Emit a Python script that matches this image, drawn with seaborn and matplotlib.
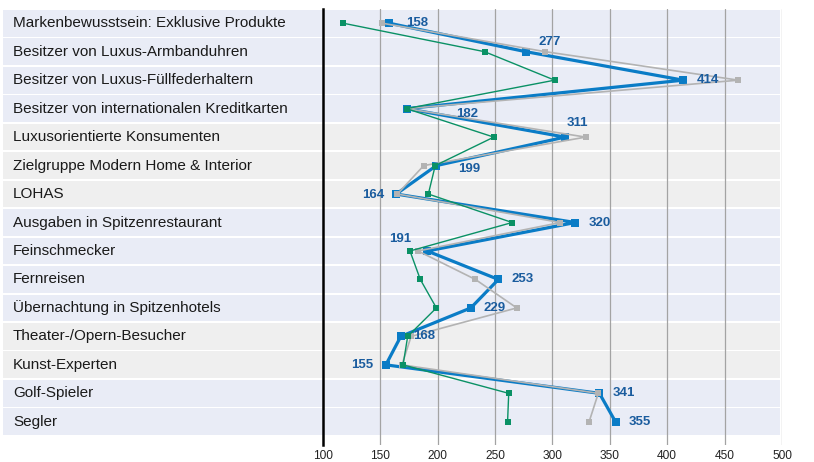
import matplotlib
matplotlib.use("Agg")
import matplotlib.pyplot as plt
import matplotlib.transforms as mtransforms
from matplotlib.patches import Rectangle
import seaborn as sns

# Data
categories = [
    "Markenbewusstsein: Exklusive Produkte",
    "Besitzer von Luxus-Armbanduhren",
    "Besitzer von Luxus-Füllfederhaltern",
    "Besitzer von internationalen Kreditkarten",
    "Luxusorientierte Konsumenten",
    "Zielgruppe Modern Home & Interior",
    "LOHAS",
    "Ausgaben in Spitzenrestaurant",
    "Feinschmecker",
    "Fernreisen",
    "Übernachtung in Spitzenhotels",
    "Theater-/Opern-Besucher",
    "Kunst-Experten",
    "Golf-Spieler",
    "Segler",
]
blue_values = [158, 277, 414, 173, 311, 199, 164, 320, 191, 253, 229, 168, 155, 341, 355]
blue_labels = ["158", "277", "414", "182", "311", "199", "164", "320", "191", "253", "229", "168", "155", "341", "355"]
gray_values = [152, 294, 462, 173, 329, 188, 165, 307, 183, 233, 269, 177, 169, 340, 332]
green_values = [118, 241, 302, 173, 249, 198, 192, 265, 176, 185, 199, 174, 170, 262, 261]
row_shade = ["b", "b", "b", "b", "g", "g", "g", "b", "b", "b", "b", "g", "g", "b", "b"]
xticks = [100, 150, 200, 250, 300, 350, 400, 450, 500]

# label placement (pixel offsets from the marker, ha)
label_pos = [
    (17, 0, "left"), (24, -10, "center"), (13, 0, "left"), (61, 5, "center"),
    (12, -14, "center"), (33, 3, "center"), (-12, 1, "right"), (13, 0, "left"),
    (-27, -12, "center"), (13, 0, "left"), (13, 0, "left"), (12, 0, "left"),
    (-13, 0, "right"), (13, 0, "left"), (13, 0, "left"),
]

sns.set_style("white")
plt.rcParams["font.family"] = ["Liberation Sans", "DejaVu Sans"]

BLUE = "#0a7cc6"
GRAY = "#b3b3b3"
GREEN = "#0a9165"
LABEL = "#1a5c9e"
BAND = {"b": "#e9ecf6", "g": "#efefef"}

fig = plt.figure(figsize=(8.14, 4.62), dpi=100)
ax = fig.add_axes([322.7 / 814, 17 / 462, (782 - 322.7) / 814, 436 / 462])
n = len(categories)
rows = list(range(n))

# row background bands reaching behind the labels
trans = mtransforms.blended_transform_factory(fig.transFigure, ax.transData)
for i, s in enumerate(row_shade):
    ax.add_patch(Rectangle((3 / 814, i - 0.47), (780 - 3) / 814, 0.94,
                           transform=trans, facecolor=BAND[s], edgecolor="none",
                           clip_on=False, zorder=0))
    ax.text(13 / 814, i, categories[i], transform=trans, ha="left", va="center",
            fontsize=11, color="#1a1a1a", zorder=3)

for xv in xticks[1:]:
    ax.axvline(xv, color="#a3a3a3", lw=0.9, zorder=1)

sns.lineplot(x=blue_values, y=rows, sort=False, estimator=None, color=BLUE, lw=2.3,
             marker="s", markersize=5.2, markeredgewidth=0, ax=ax, zorder=4)
sns.lineplot(x=gray_values, y=rows, sort=False, estimator=None, color=GRAY, lw=1.2,
             marker="s", markersize=5, markeredgewidth=0, ax=ax, zorder=5)
sns.lineplot(x=green_values, y=rows, sort=False, estimator=None, color=GREEN, lw=1.0,
             marker="s", markersize=5, markeredgewidth=0, ax=ax, zorder=6)

for i, (v, lab) in enumerate(zip(blue_values, blue_labels)):
    dx, dy, ha = label_pos[i]
    ax.annotate(lab, (v, i), xytext=(dx * 0.72, -dy * 0.72), textcoords="offset points",
                ha=ha, va="center", fontsize=9.5, fontweight="bold", color=LABEL, zorder=7)

ax.set_xlim(100, 500)
ax.set_ylim(14.815, -0.5)
ax.set_xticks(xticks)
ax.set_xticklabels([str(t) for t in xticks])
ax.set_yticks([])
ax.tick_params(axis="x", length=0, pad=3.5, labelsize=8.6, labelcolor="#222222")
ax.patch.set_visible(False)
for side in ["top", "right", "bottom"]:
    ax.spines[side].set_visible(False)
ax.spines["left"].set_color("black")
ax.spines["left"].set_linewidth(1.8)
ax.spines["left"].set_zorder(2)

fig.savefig("out.png", dpi=100)
